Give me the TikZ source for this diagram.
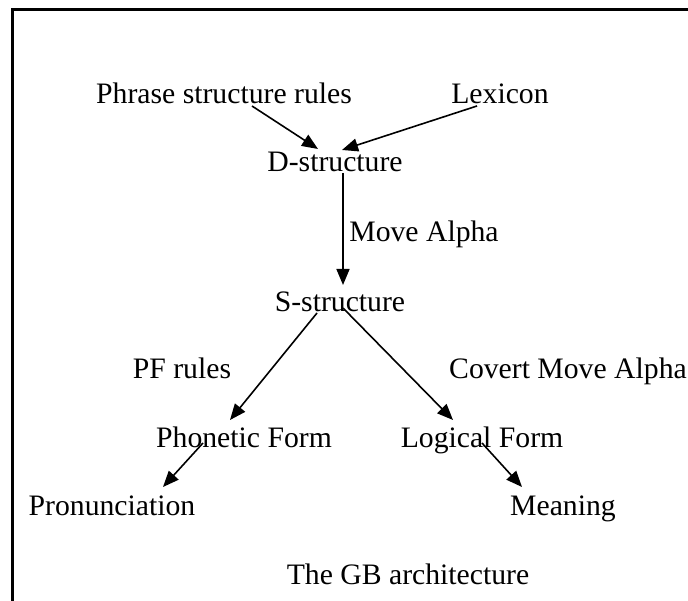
\documentclass[tikz,border=0pt]{standalone}
\usepackage{fontspec}
\setmainfont{Liberation Serif}
\usetikzlibrary{arrows.meta}
\tikzset{
  lbl/.style={anchor=base, inner sep=0pt, font=\fontsize{29.7}{34}\selectfont},
  arr/.style={line width=1.6pt, -{Triangle[length=16pt,width=13pt]}},
  frame/.style={line width=2.7pt}
}
\begin{document}
\begin{tikzpicture}[x=1pt,y=-1pt]
\useasboundingbox (0,0) rectangle (688,601);
\fill[white] (0,0) rectangle (688,601);
\coordinate (ftop) at (688,9.3);
\coordinate (fcorner) at (12.5,9.3);
\coordinate (fbot) at (12.5,601);
\draw[frame] (ftop) -- (fcorner) -- (fbot);

\node[lbl] (psr) at (224,104) {Phrase structure rules};
\node[lbl] (lex) at (500,104) {Lexicon};
\node[lbl] (ds)  at (335,172) {D-structure};
\node[lbl] (ma)  at (424,242) {Move Alpha};
\node[lbl] (ss)  at (340,312) {S-structure};
\node[lbl] (pfr) at (182,379) {PF rules};
\node[lbl] (cma) at (568,379) {Covert Move Alpha};
\node[lbl] (phf) at (244,447) {Phonetic Form};
\node[lbl] (lf)  at (482,447) {Logical Form};
\node[lbl] (pron) at (112,515) {Pronunciation};
\node[lbl] (mean) at (563,515) {Meaning};
\node[lbl] (gb)  at (408,584) {The GB architecture};

\draw[arr] ([shift={(28,2)}]psr.base) -- ([shift={(-17,-23)}]ds.base);
\draw[arr] ([shift={(-23,2)}]lex.base) -- ([shift={(7,-22)}]ds.base);
\draw[arr] ([shift={(8,1)}]ds.base) -- ([shift={(3,-27)}]ss.base);
\draw[arr] ([shift={(-23,1)}]ss.base) -- ([shift={(-14,-27)}]phf.base);
\draw[arr] ([shift={(3,-4)}]ss.base) -- ([shift={(-29,-27)}]lf.base);
\draw[arr] ([shift={(-41,-4)}]phf.base) -- ([shift={(51,-28)}]pron.base);
\draw[arr] ([shift={(0,-4)}]lf.base) -- ([shift={(-41,-28)}]mean.base);
\end{tikzpicture}
\end{document}
